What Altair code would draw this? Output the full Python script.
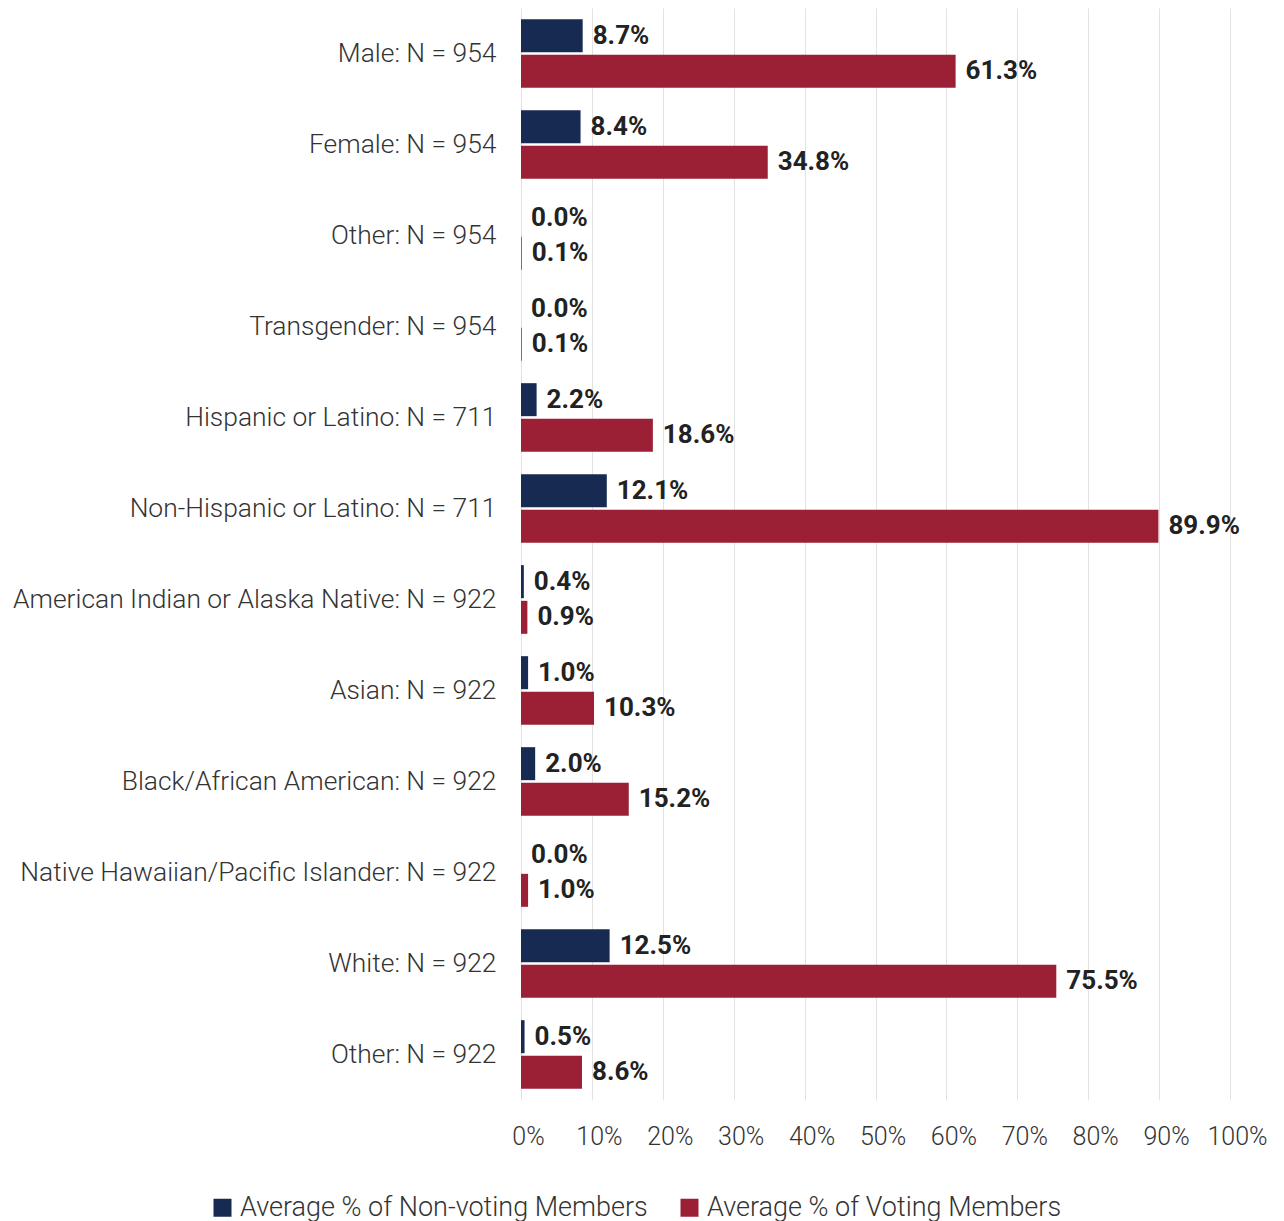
import altair as alt
import pandas as pd

categories = [
    "Male: N = 954",
    "Female: N = 954",
    "Other: N = 954",
    "Transgender: N = 954",
    "Hispanic or Latino: N = 711",
    "Non-Hispanic or Latino: N = 711",
    "American Indian or Alaska Native: N = 922",
    "Asian: N = 922",
    "Black/African American: N = 922",
    "Native Hawaiian/Pacific Islander: N = 922",
    "White: N = 922",
    "Other: N = 922",
]
non_voting = [8.7, 8.4, 0.0, 0.0, 2.2, 12.1, 0.4, 1.0, 2.0, 0.0, 12.5, 0.5]
voting = [61.3, 34.8, 0.1, 0.1, 18.6, 89.9, 0.9, 10.3, 15.2, 1.0, 75.5, 8.6]
series = ["Average % of Non-voting Members", "Average % of Voting Members"]
colors = ["#172a52", "#9b1f35"]

rows = []
for c, nv, v in zip(categories, non_voting, voting):
    rows.append({"cat": c, "series": series[0], "value": nv, "label": f"{nv:.1f}%"})
    rows.append({"cat": c, "series": series[1], "value": v, "label": f"{v:.1f}%"})
df = pd.DataFrame(rows)

FONT = "Roboto"

y = alt.Y("cat:N", sort=categories, title=None,
          scale=alt.Scale(paddingInner=0.24, paddingOuter=0.12),
          axis=alt.Axis(labelFont=FONT, labelFontSize=26.4, labelFontWeight=300,
                        labelColor="#333333", labelPadding=25, ticks=False,
                        domain=False, labelLimit=700))
x = alt.X("value:Q", title=None,
          scale=alt.Scale(domain=[0, 100], nice=False),
          axis=alt.Axis(values=list(range(0, 101, 10)), labelExpr="datum.value + '%'",
                        labelFont=FONT, labelFontSize=25, labelFontWeight=300,
                        labelColor="#333333", labelPadding=24, ticks=False,
                        labelOverlap=False, labelOffset=7, labelFlush=False,
                        domain=False, grid=True, gridColor="#e2e2e2", gridWidth=1))
yoff = alt.YOffset("series:N", sort=series, scale=alt.Scale(paddingInner=0.06))

base = alt.Chart(df).encode(y=y, yOffset=yoff)

bars = base.mark_bar(size=33).encode(
    x=x,
    color=alt.Color("series:N", sort=series,
                    scale=alt.Scale(domain=series, range=colors),
                    legend=alt.Legend(title=None, orient="none", direction="horizontal",
                                      legendX=-312, legendY=1186,
                                      symbolType="square", symbolSize=324,
                                      labelFont=FONT, labelFontSize=27, labelFontWeight=300,
                                      labelColor="#333333", columnPadding=28,
                                      labelLimit=600, symbolStrokeWidth=0)),
)

labels = base.mark_text(align="left", baseline="middle", dx=10, font=FONT,
                        fontSize=26, fontWeight="bold", color="#222222").encode(
    x=alt.X("value:Q"),
    text="label:N",
)

chart = (bars + labels).properties(
    width=709, height=1092,
    padding={"left": 4, "top": 0, "right": 5, "bottom": 5},
).configure_view(stroke=None)

chart.save("out.html", embed_options={"renderer": "svg", "actions": False})
